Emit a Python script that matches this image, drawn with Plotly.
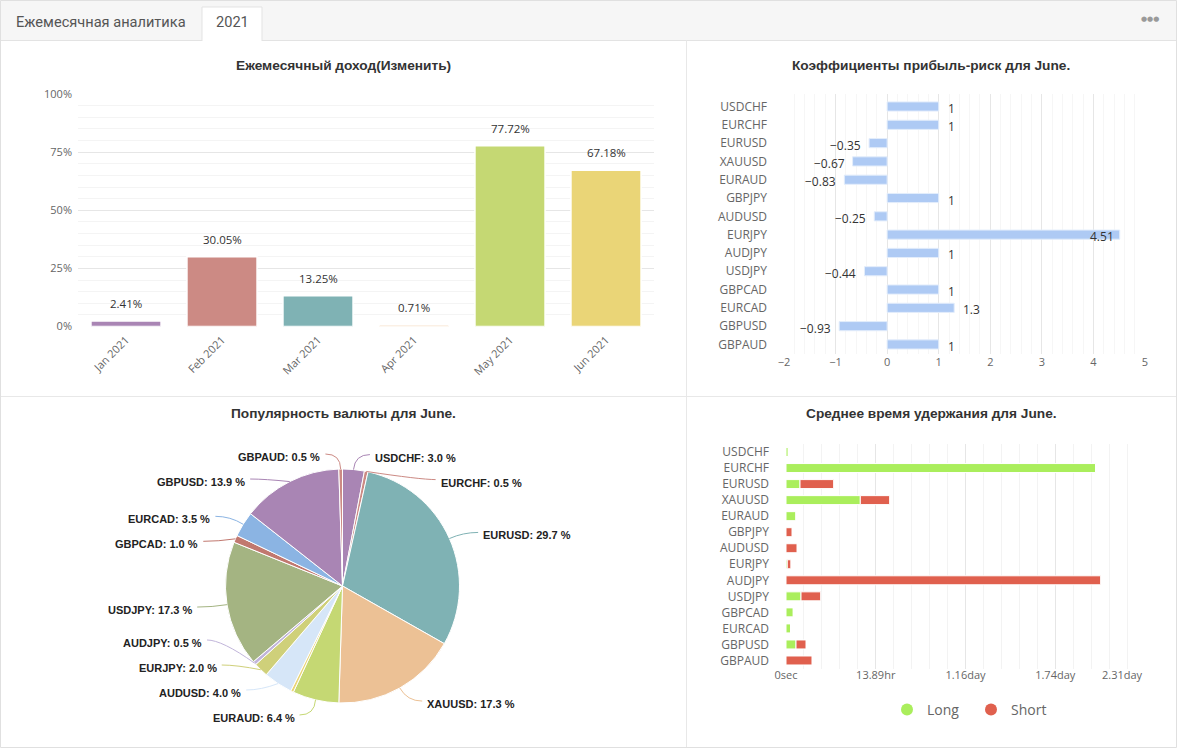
import math
import plotly.graph_objects as go

# ---------------- data ----------------
months = ['Jan 2021', 'Feb 2021', 'Mar 2021', 'Apr 2021', 'May 2021', 'Jun 2021']
monthly_gain = [2.41, 30.05, 13.25, 0.71, 77.72, 67.18]
gain_ticks = [0, 25, 50, 75, 100]
gain_tick_labels = ['0%', '25%', '50%', '75%', '100%']

symbols = ['USDCHF', 'EURCHF', 'EURUSD', 'XAUUSD', 'EURAUD', 'GBPJPY', 'AUDUSD',
           'EURJPY', 'AUDJPY', 'USDJPY', 'GBPCAD', 'EURCAD', 'GBPUSD', 'GBPAUD']
profit_risk = [1, 1, -0.35, -0.67, -0.83, 1, -0.25, 4.51, 1, -0.44, 1, 1.3, -0.93, 1]
popularity = [3.0, 0.5, 29.7, 17.3, 6.4, 0.4, 4.0, 2.0, 0.5, 17.3, 1.0, 3.5, 13.9, 0.5]
popularity_hidden_labels = ['GBPJPY']
hold_long_sec = [1300, 172500, 7800, 41400, 5570, 0, 0, 700, 0, 8360, 4090, 2600, 5570, 0]
hold_short_sec = [0, 0, 18750, 16350, 0, 3340, 6130, 2000, 175300, 10960, 0, 0, 5570, 14480]
hold_tick_sec = [0, 50000, 100000, 150000, 200000]
hold_tick_labels = ['0sec', '13.89hr', '1.16day', '1.74day', '2.31day']

palette = ['#a985b4', '#cc8a84', '#7fb2b4', '#ecc195', '#c5d873', '#ead577', '#d6e6f8',
           '#cfd07a', '#c1b5da', '#a4b482', '#c1786f', '#8bb4e3', '#a985b4', '#cc8a84']

# ---------------- layout constants ----------------
W, H = 1177, 748
TICK = '#666666'
TITLE = '#333333'
GRID = '#e6e6e6'
MINOR = '#f4f4f4'
AXFONT = 'Open Sans, Arial, sans-serif'
BOLDFONT = 'Liberation Sans, Arial, sans-serif'


def px(x):
    return x / W


def py(y):
    return 1 - y / H


def fmt_num(v):
    s = '{:g}'.format(abs(v))
    return ('\u2212' + s) if v < 0 else s


fig = go.Figure()

# ---------- top-left: monthly gain ----------
fig.add_trace(go.Bar(
    x=months, y=monthly_gain, marker=dict(color=palette[:6], line=dict(color='white', width=1.5)),
    xaxis='x', yaxis='y', showlegend=False, hoverinfo='x+y'))

# ---------- top-right: profit-risk ratios ----------
fig.add_trace(go.Bar(
    x=profit_risk, y=symbols, orientation='h',
    marker=dict(color='#aecaf4', line=dict(color='#e3edfb', width=1)),
    xaxis='x2', yaxis='y2', showlegend=False))

# ---------- bottom-right: holding time ----------
fig.add_trace(go.Bar(
    x=hold_long_sec, y=symbols, orientation='h', name='Long',
    marker=dict(color='#aaee5c', line=dict(color='white', width=1)),
    xaxis='x3', yaxis='y3', showlegend=False))
fig.add_trace(go.Bar(
    x=hold_short_sec, y=symbols, orientation='h', name='Short',
    marker=dict(color='#e0604e', line=dict(color='white', width=1)),
    xaxis='x3', yaxis='y3', showlegend=False))
fig.add_trace(go.Scatter(x=[None], y=[None], mode='markers', name='Long',
                         marker=dict(color='#aaee5c', size=14), xaxis='x3', yaxis='y3'))
fig.add_trace(go.Scatter(x=[None], y=[None], mode='markers', name='Short',
                         marker=dict(color='#e0604e', size=14), xaxis='x3', yaxis='y3'))

# ---------- bottom-left: pie ----------
pie_cx, pie_cy, pie_r = 342.5, 586.0, 117.0
fig.add_trace(go.Pie(
    labels=symbols, values=popularity, sort=False, direction='clockwise', rotation=0,
    marker=dict(colors=palette, line=dict(color='white', width=1)),
    textinfo='none', showlegend=False,
    domain=dict(x=[px(pie_cx - pie_r), px(pie_cx + pie_r)],
                y=[py(pie_cy + pie_r), py(pie_cy - pie_r)])))

annotations = []
shapes = []

# pie labels with leader lines (echarts-like layout)
len1, len2, gap_px = 15, 15, 25
label_bottom = 715
R = pie_r + len1
total = sum(popularity)
cum = 0
items = []
for name, v, col in zip(symbols, popularity, palette):
    mid = (cum + v / 2) / total * 2 * math.pi
    cum += v
    if name in popularity_hidden_labels:
        continue
    s = math.sin(mid)
    c = math.cos(mid)
    items.append(dict(name=name, v=v, col=col,
                      sx=pie_cx + pie_r * s, sy=pie_cy - pie_r * c,
                      ey=pie_cy - R * c, side=1 if s >= 0 else -1))
for side in (1, -1):
    lst = sorted([it for it in items if it['side'] == side], key=lambda d: d['ey'])
    prev = None
    for it in lst:
        y = it['ey'] if prev is None else max(it['ey'], prev + gap_px)
        it['y'] = y
        prev = y
    if lst and lst[-1]['y'] > label_bottom:
        lst[-1]['y'] = label_bottom
        for i in range(len(lst) - 2, -1, -1):
            lst[i]['y'] = min(lst[i]['y'], lst[i + 1]['y'] - gap_px)
    for it in lst:
        dy = it['y'] - pie_cy
        x1 = pie_cx + side * math.sqrt(max(R * R - dy * dy, 0))
        x2 = x1 + side * len2
        path = 'M {:.5f},{:.5f} Q {:.5f},{:.5f} {:.5f},{:.5f}'.format(
            px(it['sx']), py(it['sy']), px(x1), py(it['y']), px(x2), py(it['y']))
        shapes.append(dict(type='path', path=path, xref='paper', yref='paper',
                           line=dict(color=it['col'], width=1)))
        annotations.append(dict(
            x=px(x2 + side * 3), y=py(it['y'] + 3), xref='paper', yref='paper',
            xanchor='left' if side > 0 else 'right', yanchor='middle', showarrow=False,
            text='<b>{}: {:.1f} %</b>'.format(it['name'], it['v']),
            font=dict(family=BOLDFONT, size=11, color='#222222')))

# bar value labels (top-left)
for m, v in zip(months, monthly_gain):
    annotations.append(dict(x=m, y=v, xref='x', yref='y', yanchor='bottom', yshift=8,
                            showarrow=False, text='{:.2f}%'.format(v),
                            font=dict(family=AXFONT, size=11.5, color='#333333')))

# value labels (top-right)
pr_range = [-2, 5]
for s, v in zip(symbols, profit_risk):
    inside = v > pr_range[1] - 0.6
    if inside:
        anchor, shift = 'right', -4
    elif v >= 0:
        anchor, shift = 'left', 7
    else:
        anchor, shift = 'right', -6
    annotations.append(dict(x=v, y=s, xref='x2', yref='y2', xanchor=anchor, xshift=shift,
                            yshift=-2, showarrow=False, text=fmt_num(v),
                            font=dict(family=AXFONT, size=12, color='#333333')))

# last tick label of holding-time axis, right aligned
annotations.append(dict(x=hold_tick_sec[-1], y=py(674), xref='x3', yref='paper',
                        xanchor='right', yanchor='middle', showarrow=False,
                        text=hold_tick_labels[-1], font=dict(family=AXFONT, size=11, color=TICK)))
hold_ticktext = hold_tick_labels[:-1] + ['']

# titles
for t, x, y in [('Ежемесячный доход(Изменить)', 343, 65),
                ('Коэффициенты прибыль-риск для June.', 931, 65),
                ('Популярность валюты для June.', 343, 413),
                ('Среднее время удержания для June.', 931, 413)]:
    annotations.append(dict(x=px(x), y=py(y), xref='paper', yref='paper', showarrow=False,
                            xanchor='center', yanchor='middle', text='<b>' + t + '</b>',
                            font=dict(family=BOLDFONT, size=13.7, color=TITLE)))

# tab bar texts
annotations.append(dict(x=px(14), y=py(22), xref='paper', yref='paper', showarrow=False,
                        xanchor='left', yanchor='middle', text='Ежемесячная аналитика',
                        font=dict(family='Roboto, sans-serif', size=14.6, color='#555555')))
annotations.append(dict(x=px(232), y=py(22), xref='paper', yref='paper', showarrow=False,
                        xanchor='center', yanchor='middle', text='2021',
                        font=dict(family='Roboto, sans-serif', size=14.6, color='#555555')))
annotations.append(dict(x=px(1150), y=py(19), xref='paper', yref='paper', showarrow=False,
                        xanchor='center', yanchor='middle', text='●●●',
                        font=dict(family='DejaVu Sans, sans-serif', size=7, color='#9a9a9a')))

# decorations: tab bar, panel borders
shapes = [
    dict(type='rect', xref='paper', yref='paper', x0=0, x1=1, y0=py(40), y1=1,
         fillcolor='#f6f6f6', line=dict(width=0), layer='below'),
    dict(type='line', xref='paper', yref='paper', x0=0, x1=1, y0=py(40.5), y1=py(40.5),
         line=dict(color='#e3e3e3', width=1)),
    dict(type='rect', xref='paper', yref='paper', x0=px(202), x1=px(262), y0=py(40.5), y1=py(7),
         fillcolor='white', line=dict(color='#e3e3e3', width=1)),
    dict(type='line', xref='paper', yref='paper', x0=px(202.5), x1=px(261.5), y0=py(40.5), y1=py(40.5),
         line=dict(color='white', width=1.5)),
    dict(type='line', xref='paper', yref='paper', x0=px(686.5), x1=px(686.5), y0=0, y1=py(40.5),
         line=dict(color='#e8e8e8', width=1)),
    dict(type='line', xref='paper', yref='paper', x0=0, x1=1, y0=py(396.5), y1=py(396.5),
         line=dict(color='#e8e8e8', width=1)),
    dict(type='rect', xref='paper', yref='paper', x0=px(0.5), x1=px(1176.5), y0=py(747.5), y1=py(0.5),
         line=dict(color='#e0e0e0', width=1)),
] + shapes

tickfont = dict(family=AXFONT, size=11, color=TICK)
catfont = dict(family=AXFONT, size=12, color=TICK)

fig.update_layout(
    width=W, height=H, margin=dict(l=0, r=0, t=0, b=0, pad=0),
    paper_bgcolor='white', plot_bgcolor='white',
    bargap=0.27, barmode='relative',
    annotations=annotations, shapes=shapes,
    showlegend=True,
    legend=dict(orientation='h', x=px(971), y=py(710), xanchor='center', yanchor='middle',
                font=dict(family=AXFONT, size=14, color='#666666'), itemsizing='constant',
                entrywidth=39, bgcolor='rgba(0,0,0,0)'),
    xaxis=dict(domain=[px(78), px(654)], anchor='y', type='category', tickangle=-45,
               showgrid=False, showline=False, zeroline=False, tickfont=tickfont,
               ticklabelstandoff=4, automargin=False),
    yaxis=dict(domain=[py(326.5), py(94)], anchor='x', range=[0, 100], tickmode='array',
               tickvals=gain_ticks, ticktext=gain_tick_labels,
               showgrid=True, gridcolor=GRID, zeroline=False, tickfont=tickfont,
               ticklabelstandoff=5, automargin=False,
               minor=dict(tickmode='linear', tick0=0, dtick=5, showgrid=True, gridcolor=MINOR)),
    xaxis2=dict(domain=[px(784), px(1145)], anchor='y2', range=pr_range, dtick=1,
                showgrid=True, gridcolor=GRID, zeroline=False, tickfont=tickfont, automargin=False,
                minor=dict(tickmode='linear', tick0=0, dtick=0.2, showgrid=True, gridcolor='#f6f6f6')),
    yaxis2=dict(domain=[py(353.6), py(94)], anchor='x2', type='category', autorange='reversed',
                showgrid=False, zeroline=False, tickfont=catfont, ticklabelstandoff=16,
                automargin=False),
    xaxis3=dict(domain=[px(786), px(1145)], anchor='y3', range=[0, hold_tick_sec[-1]],
                tickmode='array', tickvals=hold_tick_sec, ticktext=hold_ticktext,
                showgrid=True, gridcolor=GRID, zeroline=False, tickfont=tickfont,
                ticklabelstandoff=-2, automargin=False,
                minor=dict(tickmode='linear', tick0=0, dtick=10000, showgrid=True, gridcolor='#f3f3f3')),
    yaxis3=dict(domain=[py(668.5), py(444)], anchor='x3', type='category', autorange='reversed',
                showgrid=False, zeroline=False, tickfont=catfont, ticklabelstandoff=16,
                automargin=False),
)

# per-trace bar widths
fig.data[1].update(width=0.5)
fig.data[2].update(width=0.56)
fig.data[3].update(width=0.56)

fig.write_html('out.html',
               post_script="document.body.style.margin='0px';"
                           "var gd=document.getElementById('{plot_id}');"
                           "gd.style.position='fixed';gd.style.left='0px';gd.style.top='0px';")
